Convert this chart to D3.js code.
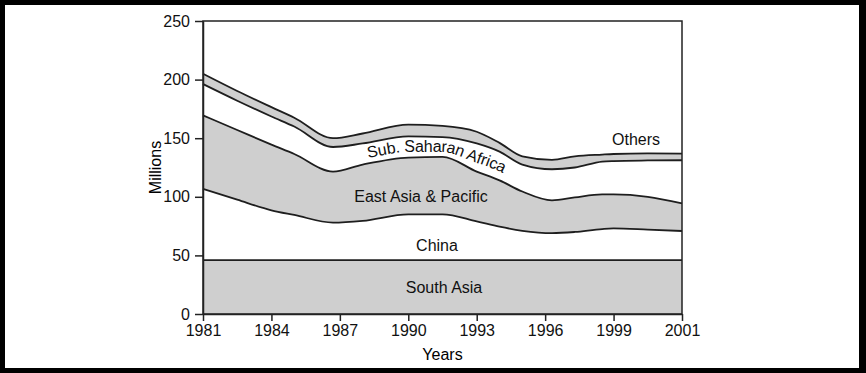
<!DOCTYPE html>
<html lang="en">
<head>
<meta charset="utf-8">
<title>Poverty by region</title>
<script src="https://cdn.jsdelivr.net/npm/d3@7"></script>
<style>
	body { margin: 0; background: #000; }
	svg { display: block; font-family: "Liberation Sans", Arial, sans-serif; }
	.axis text { font-size: 16px; fill: #111; }
	.axis path, .axis line { stroke: #222; stroke-width: 1.5px; }
	.band-label { font-size: 16px; fill: #111; }
</style>
</head>
<body>
<svg id="chart" width="866" height="373"></svg>
<script>
var years     = [1981, 1982.5, 1984, 1985, 1986.7, 1988, 1990, 1991.5, 1993, 1994, 1995, 1996.3, 1997.3, 1998.5, 1999, 2000, 2001]
var southAsia = [46, 46, 46, 46, 46, 46, 46, 46, 46, 46, 46, 46, 46, 46, 46, 46, 46]
var china     = [60.8, 51.5, 42.5, 38.5, 32, 33.5, 39, 39, 33, 28.5, 25, 23, 24, 26.5, 27, 26, 24.8]
var eastAsia  = [62.7, 59.5, 56, 52, 43.5, 48, 48.5, 49, 42.5, 39.5, 33.5, 28, 29.5, 29.5, 29, 28, 23.6]
var subSahara = [26.7, 25, 24, 23.5, 21, 18, 18, 17, 24, 24.5, 23, 26.5, 25.5, 28, 28.5, 31, 36.8]
var others    = [8.8, 8.3, 8, 7.5, 7.5, 8.5, 10, 9.5, 10, 7.5, 7, 8, 9.5, 6, 6, 6, 5.6]

var tickYears = [1981, 1984, 1987, 1990, 1993, 1996, 1999, 2001]
var yTicks = [0, 50, 100, 150, 200, 250]
var regions = ["South Asia", "China", "East Asia & Pacific", "Sub. Saharan Africa", "Others"]
var shaded = {"South Asia": true, "China": false, "East Asia & Pacific": true, "Sub. Saharan Africa": false, "Others": true}

var rows = years.map(function(yr, i) {
	return {year: yr, "South Asia": southAsia[i], "China": china[i], "East Asia & Pacific": eastAsia[i],
		"Sub. Saharan Africa": subSahara[i], "Others": others[i]}
})

var svg = d3.select("#chart")
// scanned page frame
svg.append("rect").attr("x", 5).attr("y", 5).attr("width", 854).attr("height", 363).attr("fill", "#fff")

var m = {left: 203, top: 21}
var w = 479, h = 293
var g = svg.append("g").attr("transform", "translate(" + m.left + "," + m.top + ")")

// survey years are evenly spaced on the axis, even the last 2-year step
var x = d3.scaleLinear().domain([1981, 1999, 2001]).range([0, w * 6 / 7, w])
var y = d3.scaleLinear().domain([0, 250]).range([h, 0])

var series = d3.stack().keys(regions)(rows)

var area = d3.area().curve(d3.curveMonotoneX)
	.x(function(d) { return x(d.data.year) })
	.y0(function(d) { return y(d[0]) })
	.y1(function(d) { return y(d[1]) })
var topLine = d3.line().curve(d3.curveMonotoneX)
	.x(function(d) { return x(d.data.year) })
	.y(function(d) { return y(d[1]) })

g.selectAll(".band").data(series).enter().append("path")
	.attr("class", "band")
	.attr("d", area)
	.attr("fill", function(s) { return shaded[s.key] ? "#cfcfcf" : "#fff" })

g.selectAll(".edge").data(series).enter().append("path")
	.attr("class", "edge")
	.attr("d", topLine)
	.attr("fill", "none")
	.attr("stroke", "#1e1e1e")
	.attr("stroke-width", 1.8)

// frame
g.append("rect").attr("width", w).attr("height", h)
	.attr("fill", "none").attr("stroke", "#222").attr("stroke-width", 1.5)

g.append("g").attr("class", "axis")
	.attr("transform", "translate(0," + h + ")")
	.call(d3.axisBottom(x).tickValues(tickYears).tickFormat(d3.format("d")).tickSize(7).tickSizeOuter(0).tickPadding(4))
g.append("g").attr("class", "axis")
	.call(d3.axisLeft(y).tickValues(yTicks).tickSize(8).tickSizeOuter(0).tickPadding(5))

g.append("text").attr("x", w / 2).attr("y", 339).attr("text-anchor", "middle")
	.style("font-size", "16px").text("Years")
g.append("text").attr("transform", "translate(-42," + (h / 2) + ") rotate(-90)")
	.attr("text-anchor", "middle").style("font-size", "16px").text("Millions")

// labels sitting in the bands
var labels = [
	{name: "South Asia", x: 444, y: 293},
	{name: "China", x: 437, y: 251},
	{name: "East Asia & Pacific", x: 421, y: 202},
	{name: "Others", x: 636, y: 145}
]
svg.selectAll(".band-label").data(labels).enter().append("text")
	.attr("class", "band-label")
	.attr("x", function(d) { return d.x })
	.attr("y", function(d) { return d.y })
	.attr("text-anchor", "middle")
	.text(function(d) { return d.name })

// Sub Saharan label follows the middle of its band
var ssa = series[3]
var midLine = d3.line().curve(d3.curveMonotoneX)
	.x(function(d) { return x(d.data.year) })
	.y(function(d) { return y((d[0] + d[1]) / 2) })
var mid = g.append("path").attr("id", "ssaMid").attr("d", midLine(ssa))
	.attr("fill", "none").attr("stroke", "none")
var node = mid.node(), lo = 0, hi = node.getTotalLength(), target = 438 - m.left
for (var k = 0; k < 40; k++) {
	var md = (lo + hi) / 2
	if (node.getPointAtLength(md).x < target) lo = md; else hi = md
}
g.append("text").attr("class", "band-label").attr("dy", 5)
	.append("textPath").attr("href", "#ssaMid")
	.attr("startOffset", lo).attr("text-anchor", "middle")
	.text("Sub. Saharan Africa")
</script>
</body>
</html>
